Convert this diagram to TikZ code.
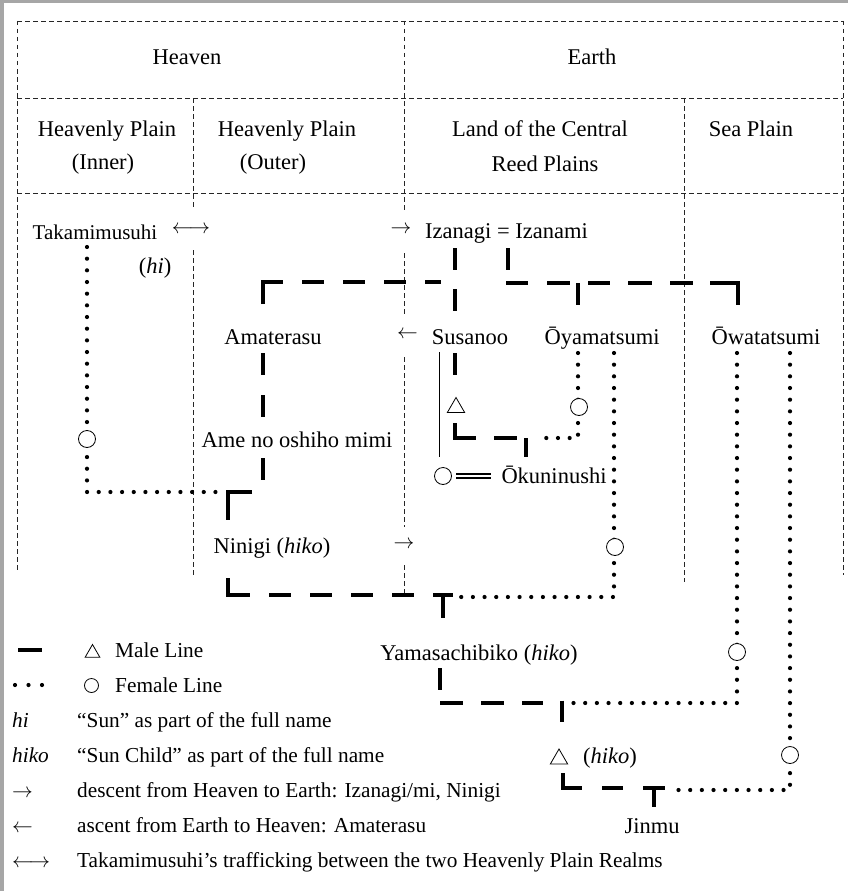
\documentclass[tikz,border=0pt]{standalone}
\usepackage{fontspec}
\setmainfont{Liberation Serif}
\usetikzlibrary{shapes.geometric}

\tikzset{
  gridline/.style={line width=0.8pt, dash pattern=on 4.5pt off 3.5pt, black!85},
  maleline/.style={line width=4.8pt, dash pattern=on 22pt off 19pt},
  femline/.style={line width=4.2pt, line cap=round, dash pattern=on 0pt off 11.67pt},
  lbl/.style={inner sep=0pt, anchor=base, font=\fontsize{22.5}{27}\selectfont},
  lgd/.style={inner sep=0pt, anchor=base west, font=\fontsize{21.3}{26}\selectfont},
  arw/.style={fill=white, inner xsep=1pt, minimum height=40pt, font=\fontsize{21}{25}\selectfont},
  fem/.style={circle, draw, line width=0.8pt, fill=white, minimum size=17pt, inner sep=0pt},
  tri/.style={regular polygon, regular polygon sides=3, draw, line width=0.8pt, fill=white,
              minimum size=20pt, inner sep=0pt},
  marriage/.style={line width=1.1pt},
}

\begin{document}
\begin{tikzpicture}[x=1pt,y=-1pt]
% page
\fill[white] (0,0) rectangle (848,891);
\useasboundingbox (0,0) rectangle (848,891);
\draw[black!35, line width=3.5pt] (1.75,891) -- (1.75,1.75) -- (848,1.75);

% realm grid
\draw[gridline] (17,21) -- (843,21);
\draw[gridline] (17,98) -- (843,98);
\draw[gridline] (17,193) -- (843,193);
\draw[gridline] (17,21) -- (17,573);
\draw[gridline] (404,21) -- (404,595);
\draw[gridline] (843,21) -- (843,575);
\draw[gridline] (193,98) -- (193,577);
\draw[gridline] (684,98) -- (684,582);

% realm headings
\node[lbl] (heaven) at (187,65) {Heaven};
\node[lbl] (earth) at (592,65) {Earth};
\node[lbl] (hpinA) at (107,136) {Heavenly Plain};
\node[lbl] (hpinB) at (103,169) {(Inner)};
\node[lbl] (hpoutA) at (287,136) {Heavenly Plain};
\node[lbl] (hpoutB) at (273,169) {(Outer)};
\node[lbl] (landA) at (540,136) {Land of the Central};
\node[lbl] (landB) at (545,171) {Reed Plains};
\node[lbl] (sea) at (751,136) {Sea Plain};

% movement arrows
\node[arw] (tarr) at (191,230) {$\longleftrightarrow$};
\node[arw] (darrA) at (401,230) {$\rightarrow$};
\node[arw] (aarr) at (407.5,335) {$\leftarrow$};
\node[arw, minimum height=36pt] (darrB) at (404,545) {$\rightarrow$};

% deities
\node[lbl, font=\fontsize{21}{25}\selectfont] (taka) at (95,239) {Takamimusuhi};
\node[lbl] (hi) at (155,273) {(\textit{hi})};
\node[lbl, anchor=base west] (izan) at (425,238) {Izanagi = Izanami};
\node[lbl] (ama) at (273,344) {Amaterasu};
\node[lbl] (susa) at (470,344) {Susanoo};
\node[lbl] (oyama) at (602,344) {Ōyamatsumi};
\node[lbl] (owata) at (766,344) {Ōwatatsumi};
\node[lbl] (ame) at (297,447) {Ame no oshiho mimi};
\node[lbl] (okuni) at (554,483) {Ōkuninushi};
\node[lbl] (ninigi) at (272,553) {Ninigi (\textit{hiko})};
\node[lbl] (yama) at (479,660) {Yamasachibiko (\textit{hiko})};
\node[lbl] (hikoc) at (610,763) {(\textit{hiko})};
\node[lbl] (jinmu) at (652,833) {Jinmu};

% junction points
\coordinate (jA) at (263,282);
\coordinate (jB) at (738,283);
\coordinate (jC) at (228,595);
\coordinate (jD) at (440,703);
\coordinate (jE) at (563,788);
\coordinate (jF) at (455,438);

% male lines
\draw[maleline] (455,248) -- (455,311);
\draw[maleline, dash pattern=on 42pt off 19pt on 22pt off 19pt on 22pt off 19pt on 22pt off 19pt on 22pt off 19pt]
  (263,304) -- (jA) -- (441,282);
\draw[maleline, solid] (508,248) -- (508,270);
\draw[maleline, dash pattern=on 22pt off 19pt on 23pt off 18pt on 22pt off 18pt on 24pt off 18pt on 23pt off 17pt on 50pt]
  (506,283) -- (jB) -- (738,305);
\draw[maleline, solid] (578,283) -- (578,305);
\draw[maleline, dash pattern=on 22pt off 20pt] (263,353) -- (263,417);
\draw[maleline, dash pattern=on 22pt off 23pt on 52pt] (263,458) -- (263,492) -- (228,492) -- (228,520);
\draw[maleline, dash pattern=on 39pt off 19pt on 22pt off 19pt on 22pt off 19pt on 22pt off 19pt on 22pt off 19pt on 22pt off 19pt]
  (228,578) -- (jC) -- (453,595);
\draw[maleline, solid] (443,595) -- (443,618);
\draw[maleline, dash pattern=on 22pt off 13pt on 23pt off 18pt on 23pt off 18pt on 23pt off 18pt]
  (440,668) -- (jD) -- (543,703);
\draw[maleline, solid] (562,700.5) -- (562,722);
\draw[maleline, dash pattern=on 34pt off 20pt on 21pt off 20pt on 22pt] (563,773) -- (jE) -- (665,788);
\draw[maleline, solid] (654,788) -- (654,807);
\draw[maleline, solid] (455,353) -- (455,375);
\draw[maleline, dash pattern=on 36pt off 18pt on 23pt] (455,423) -- (jF) -- (517,438);
\draw[maleline, solid] (526,438) -- (526,457);
\draw[line width=1pt] (439,352) -- (439,457);

% female lines
\draw[femline] (87,247) -- (87,492) -- (218,492);
\draw[femline] (578,353) -- (578,438) -- (537,438);
\draw[femline] (614,353) -- (614,597) -- (460,597);
\draw[femline] (737,353) -- (737,703) -- (572,703);
\draw[femline] (790,353) -- (790,790) -- (675,790);

% daughters and sons
\node[fem] (cA) at (87,439) {};
\node[fem] (cB) at (579,407) {};
\node[fem] (cC) at (615,547) {};
\node[fem] (cD) at (737,652) {};
\node[fem] (cE) at (790,755) {};
\node[fem] (cF) at (443,476) {};
\node[tri] (tA) at (456,407.5) {};
\node[tri] (tB) at (559,759) {};
% marriage of Okuninushi (double stroke)
\coordinate (mL) at ([xshift=4.5pt]cF.east);
\coordinate (mR) at ([xshift=-10pt]cF.east -| okuni.west);
\draw[marriage] ([yshift=-2pt]mL) -- ([yshift=-2pt]mR);
\draw[marriage] ([yshift=2pt]mL) -- ([yshift=2pt]mR);

% legend
\draw[maleline, solid, line width=4pt] (18,650) -- (42,650);
\node[tri, minimum size=17pt] (ltri) at (92.5,653) {};
\node[lgd] (lmale) at (115,657) {Male Line};
\draw[femline, dash pattern=on 0pt off 13.5pt] (15,685) -- (42.5,685);
\node[fem, minimum size=14pt] (lcirc) at (91.5,685.5) {};
\node[lgd] (lfem) at (115,692) {Female Line};
\node[lgd] (lhi) at (12,727) {\textit{hi}};
\node[lgd] (lhitxt) at (77,727) {“Sun” as part of the full name};
\node[lgd] (lhiko) at (12,762) {\textit{hiko}};
\node[lgd] (lhikotxt) at (77,762) {“Sun Child” as part of the full name};
\node[lgd] (ldesc) at (12,797) {$\rightarrow$};
\node[lgd] (ldesctxt) at (77,797) {descent from Heaven to Earth: Izanagi/mi, Ninigi};
\node[lgd] (lasc) at (12,832) {$\leftarrow$};
\node[lgd] (lasctxt) at (77,832) {ascent from Earth to Heaven: Amaterasu};
\node[lgd] (ltraf) at (12,867) {$\longleftrightarrow$};
\node[lgd] (ltraftxt) at (77,867) {Takamimusuhi’s trafficking between the two Heavenly Plain Realms};
\end{tikzpicture}
\end{document}
